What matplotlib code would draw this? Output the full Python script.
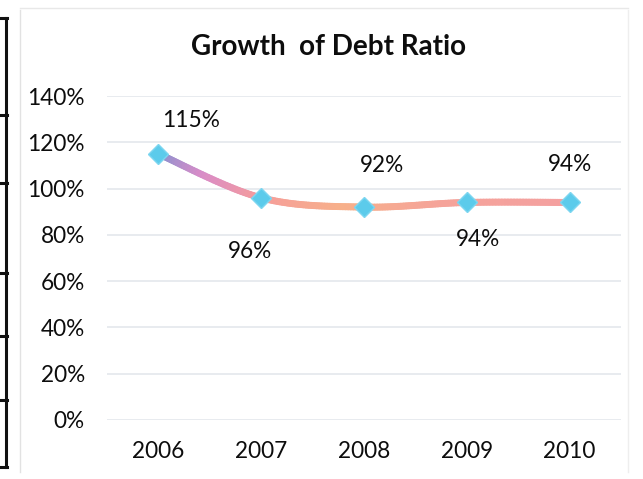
import numpy as np
import matplotlib
matplotlib.use("Agg")
import matplotlib.pyplot as plt
from matplotlib.collections import LineCollection
from matplotlib.colors import LinearSegmentedColormap
from matplotlib.lines import Line2D

years = ["2006", "2007", "2008", "2009", "2010"]
ratio = [115, 96, 92, 94, 94]
yticks = [0, 20, 40, 60, 80, 100, 120, 140]

# label offsets (pixels, relative to the marker), layout only
label_dx = [33, -11, 18, 11, 0]
label_dy = [33, -54, 42, -37, 38]

plt.rcParams['font.family'] = ['Lato', 'DejaVu Sans']

W, H = 643, 479
fig = plt.figure(figsize=(W/100, H/100), dpi=100)
fig.patch.set_facecolor('white')

# plot area in pixels: x 107..621, y 96..420
x0, x1, ytop, ybot = 107, 621, 96, 420
ax = fig.add_axes([x0/W, 1 - ybot/H, (x1-x0)/W, (ybot-ytop)/H])
ax.set_xlim(-0.5, len(years) - 0.5)
ax.set_ylim(0, 140)
for s in ax.spines.values():
    s.set_visible(False)
fs = 16.3
ax.set_yticks(yticks)
ax.set_yticklabels([f"{v}%" for v in yticks], fontsize=fs, color='#0d0d0d')
ax.set_xticks(range(len(years)))
ax.set_xticklabels(years, fontsize=fs, color='#0d0d0d')
ax.tick_params(length=0)
ax.tick_params(axis='x', pad=15)
ax.tick_params(axis='y', pad=16)
ax.grid(axis='y', color='#e4e8ec', linewidth=1.2)
ax.set_axisbelow(True)

# smooth curve (Catmull-Rom through the data points)
xs = np.arange(len(ratio), dtype=float)
ys = np.array(ratio, dtype=float)
px = np.concatenate([[xs[0]], xs, [xs[-1]]])
py = np.concatenate([[ys[0]], ys, [ys[-1]]])
cx, cy = [], []
for i in range(1, len(px) - 2):
    t = np.linspace(0, 1, 40)
    for k, arr in enumerate([px, py]):
        a0, a1, a2, a3 = arr[i-1], arr[i], arr[i+1], arr[i+2]
        b1 = a1 + (a2 - a0) / 6
        b2 = a2 - (a3 - a1) / 6
        v = (1-t)**3*a1 + 3*(1-t)**2*t*b1 + 3*(1-t)*t**2*b2 + t**3*a2
        (cx if k == 0 else cy).append(v)
cx = np.concatenate(cx); cy = np.concatenate(cy)
pts = np.column_stack([cx, cy]).reshape(-1, 1, 2)
segs = np.concatenate([pts[:-1], pts[1:]], axis=1)
cmap = LinearSegmentedColormap.from_list('g', [(0, '#7f92d0'), (0.12, '#d98cc8'),
                                              (0.24, '#f59c9c'), (0.45, '#f7b08a'),
                                              (0.7, '#f5a39a'), (1, '#f4a0a0')])
lc = LineCollection(segs, cmap=cmap, linewidth=5, capstyle='round', zorder=3)
lc.set_array(np.linspace(0, 1, len(segs)))
ax.add_collection(lc)

ax.plot(range(len(ratio)), ratio, linestyle='none', marker='D', markersize=10,
        markerfacecolor='#5ccbeb', markeredgecolor='#7dd6f0', zorder=4)

for i, v in enumerate(ratio):
    ax.annotate(f"{v}%", (i, v), xytext=(label_dx[i] * 0.72, label_dy[i] * 0.72),
                textcoords='offset points', ha='center', va='center',
                fontsize=fs, color='#0d0d0d')

fig.text(328/W, 1 - 47/H, "Growth  of Debt Ratio", ha='center', va='center',
         fontsize=20, fontweight='bold', color='#0d0d0d')

# chart frame (faint) and scanned bracket lines at left
fig.add_artist(Line2D([20/W, 20/W], [1 - 10/H, 1 - 472/H], color='#e2e2e2', lw=1))
fig.add_artist(Line2D([20/W, 628/W], [1 - 8/H, 1 - 8/H], color='#e8e8e8', lw=1))
fig.add_artist(Line2D([628/W, 628/W], [1 - 10/H, 1 - 472/H], color='#eeeeee', lw=1))
ticks_y = [18, 115, 183, 273, 336, 400, 467]
for a, b in zip(ticks_y[:-1], ticks_y[1:]):
    fig.add_artist(Line2D([5.5/W, 5.5/W], [1 - a/H, 1 - b/H], color='#111111', lw=2.2))
for yy in ticks_y:
    fig.add_artist(Line2D([0, 7/W], [1 - yy/H, 1 - yy/H], color='#111111', lw=2.2))

fig.savefig("out.png", dpi=100, facecolor='white')
